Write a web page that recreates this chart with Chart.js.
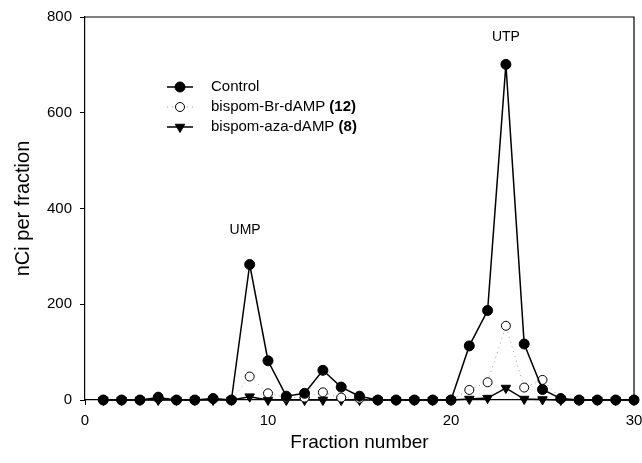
<!DOCTYPE html>
<html>
<head>
<meta charset="utf-8">
<script src="https://cdn.jsdelivr.net/npm/chart.js@4"></script>
<style>
  html, body { margin: 0; padding: 0; background: #fff; }
  #wrap { width: 642px; height: 463px; overflow: hidden; }
</style>
</head>
<body>
<div id="wrap"><canvas id="fracChart" width="642" height="463"></canvas></div>
<script>
// 분획 번호와 각 조건의 값
const fractions = [1,2,3,4,5,6,7,8,9,10,11,12,13,14,15,16,17,18,19,20,21,22,23,24,25,26,27,28,29,30];
const control   = [0,0,0,5,0,0,3,0,283,82,8,14,62,27,8,0,0,0,0,0,113,187,701,117,22,3,0,0,0,0];
const brDamp    = [0,0,0,7,0,0,3,0,49,14,5,5,16,5,3,0,0,0,0,0,21,37,155,26,42,3,0,0,0,0];
const azaDamp   = [0,0,0,0,0,0,0,0,7,0,0,0,0,0,0,0,0,0,0,0,2,4,25,2,1,0,0,0,0,0];
const xTicks = [0, 10, 20, 30];
const yTicks = [0, 200, 400, 600, 800];
const peakLabels = [{ text: 'UMP', x: 8.75, y: 355 }, { text: 'UTP', x: 23, y: 757 }];

const FONT = 'Arial, "Liberation Sans", sans-serif';

function toPoints(vals) {
    return fractions.map((f, i) => ({ x: f, y: vals[i] }));
}

// 프레임, 피크 이름, 범례 그리기
const extrasPlugin = {
    id: 'extras',
    afterDraw(chart) {
        const ctx = chart.ctx;
        const area = chart.chartArea;
        const xs = chart.scales.x, ys = chart.scales.y;
        ctx.save();
        ctx.strokeStyle = '#000';
        ctx.lineWidth = 1.2;
        ctx.beginPath();
        ctx.moveTo(area.left, area.top);
        ctx.lineTo(area.right, area.top);
        ctx.lineTo(area.right, area.bottom);
        ctx.stroke();

        ctx.fillStyle = '#000';
        ctx.font = '14px ' + FONT;
        ctx.textAlign = 'center';
        ctx.textBaseline = 'middle';
        peakLabels.forEach(p => {
            ctx.fillText(p.text, xs.getPixelForValue(p.x), ys.getPixelForValue(p.y));
        });

        // 범례
        const lx = 167, lw = 26;
        const rows = [
            { name: 'Control', num: '', ds: 0 },
            { name: 'bispom-Br-dAMP ', num: '(12)', ds: 1 },
            { name: 'bispom-aza-dAMP ', num: '(8)', ds: 2 }
        ];
        rows.forEach((r, i) => {
            const y = 87 + i * 20;
            const ds = chart.data.datasets[r.ds];
            ctx.save();
            ctx.strokeStyle = ds.borderColor;
            ctx.lineWidth = ds.borderWidth;
            if (ds.borderDash) ctx.setLineDash(ds.borderDash);
            ctx.beginPath();
            ctx.moveTo(lx, y);
            ctx.lineTo(lx + lw, y);
            ctx.stroke();
            ctx.restore();
            const opts = {
                pointStyle: ds.pointStyle,
                rotation: ds.pointRotation || 0,
                radius: ds.pointRadius,
                borderWidth: ds.pointBorderWidth
            };
            ctx.save();
            ctx.fillStyle = ds.pointBackgroundColor;
            ctx.strokeStyle = ds.pointBorderColor;
            ctx.lineWidth = ds.pointBorderWidth;
            Chart.helpers.drawPoint(ctx, opts, lx + lw / 2, y);
            ctx.restore();

            ctx.fillStyle = '#000';
            ctx.textAlign = 'left';
            ctx.font = '15px ' + FONT;
            ctx.fillText(r.name, 211, y);
            if (r.num) {
                const w = ctx.measureText(r.name).width;
                ctx.font = 'bold 15px ' + FONT;
                ctx.fillText(r.num, 211 + w, y);
            }
        });
        ctx.restore();
    }
};

function createChart() {
    const ctx = document.getElementById('fracChart').getContext('2d');
    new Chart(ctx, {
        type: 'line',
        data: {
            datasets: [{
                label: 'Control',
                data: toPoints(control),
                clip: false,
                borderColor: '#000',
                borderWidth: 1.5,
                pointStyle: 'circle',
                pointRadius: 5,
                pointBackgroundColor: '#000',
                pointBorderColor: '#000',
                pointBorderWidth: 1
            }, {
                label: 'bispom-Br-dAMP (12)',
                data: toPoints(brDamp),
                clip: false,
                borderColor: '#999',
                borderWidth: 1,
                borderDash: [1, 4],
                pointStyle: 'circle',
                pointRadius: 4.5,
                pointBackgroundColor: '#fff',
                pointBorderColor: '#000',
                pointBorderWidth: 1
            }, {
                label: 'bispom-aza-dAMP (8)',
                data: toPoints(azaDamp),
                clip: false,
                borderColor: '#000',
                borderWidth: 1.5,
                pointStyle: 'triangle',
                pointRotation: 180,
                pointRadius: 5.5,
                pointBackgroundColor: '#000',
                pointBorderColor: '#000',
                pointBorderWidth: 1
            }]
        },
        options: {
            responsive: false,
            animation: false,
            events: [],
            layout: { padding: { top: 15, right: 8, left: 0, bottom: 0 } },
            plugins: { legend: { display: false }, tooltip: { enabled: false } },
            scales: {
                x: {
                    type: 'linear',
                    min: 0, max: 30,
                    afterBuildTicks: s => { s.ticks = xTicks.map(v => ({ value: v })); },
                    afterFit: s => { s.height = 63; s.paddingLeft = 0; s.paddingRight = 0; },
                    grid: { display: true, drawOnChartArea: false, drawTicks: true, tickLength: 5, color: '#000' },
                    border: { color: '#000', width: 1.2 },
                    ticks: { color: '#000', font: { family: FONT, size: 15 }, padding: 7, maxRotation: 0 },
                    title: { display: true, text: 'Fraction number', color: '#000', font: { family: FONT, size: 19 }, padding: { top: 0, bottom: 9 } }
                },
                y: {
                    min: 0, max: 800,
                    afterBuildTicks: s => { s.ticks = yTicks.map(v => ({ value: v })); },
                    afterFit: s => { s.width = 85; },
                    grid: { display: true, drawOnChartArea: false, drawTicks: true, tickLength: 5, color: '#000' },
                    border: { color: '#000', width: 1.2 },
                    ticks: { color: '#000', font: { family: FONT, size: 15 }, padding: 8 },
                    title: { display: true, text: 'nCi per fraction', color: '#000', font: { family: FONT, size: 20 }, padding: { top: 11, bottom: 0 } }
                }
            }
        },
        plugins: [extrasPlugin]
    });
}

createChart();
</script>
</body>
</html>
